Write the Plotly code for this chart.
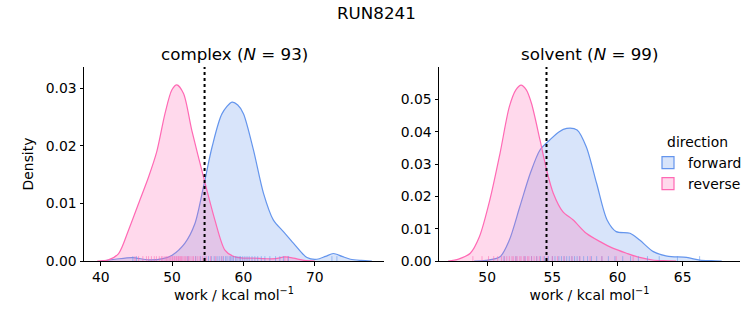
import plotly.graph_objects as go

# ---------------- data ----------------
suptitle = "RUN8241"
phases = ["complex", "solvent"]
n_samples = [93, 99]
directions = ["forward", "reverse"]
threshold = [54.55, 54.55]

# KDE curves
cx_fwd_x = [40, 42, 44.4, 46.7, 48.7, 50.0, 51.8, 53.2, 54.4, 55.6, 57.0, 58.4, 59.2, 60.0, 61.4, 62.8, 64.2, 65.6, 67.0, 68.9, 70.3, 71.5, 72.6, 73.8, 75.0, 76.5, 78]
cx_fwd_y = [0, 0.0003, 0.0006, 0.0002, 0.0004, 0.0010, 0.0031, 0.0065, 0.0129, 0.0198, 0.0256, 0.0276, 0.0271, 0.0256, 0.0193, 0.0118, 0.0071, 0.0051, 0.0031, 0.0006, 0.0003, 0.0008, 0.0013, 0.0008, 0.0003, 0.0001, 0]
cx_rev_x = [39.5, 41.07, 42.5, 43.9, 45.3, 46.7, 47.85, 49.0, 49.96, 50.66, 51.6, 52.76, 54.4, 56.0, 57.4, 58.6, 60.0, 61.4, 63.0, 64.5, 65.8, 67.0, 68.5, 70.0]
cx_rev_y = [0, 0.0002, 0.0013, 0.0054, 0.0100, 0.0146, 0.0190, 0.0256, 0.0297, 0.0306, 0.0291, 0.0227, 0.0146, 0.0071, 0.0019, 0.0008, 0.0005, 0.0005, 0.0004, 0.0004, 0.0007, 0.0005, 0.0001, 0]

sv_fwd_x = [49.0, 49.9, 50.98, 51.7, 52.5, 53.3, 54.05, 54.8, 55.5, 56.1, 56.9, 57.6, 58.4, 59.2, 59.9, 60.96, 61.7, 62.75, 63.8, 65.3, 66.3, 67.2, 68.0]
sv_fwd_y = [0, 0.0002, 0.0013, 0.0065, 0.0168, 0.0271, 0.0344, 0.0375, 0.0400, 0.0411, 0.0406, 0.0354, 0.0240, 0.0127, 0.0091, 0.0086, 0.0065, 0.0029, 0.0015, 0.0011, 0.0003, 0.0001, 0]
sv_rev_x = [47.0, 47.8, 48.7, 49.4, 50.2, 50.98, 51.7, 52.2, 52.6, 53.0, 53.4, 54.05, 54.56, 55.07, 55.8, 56.6, 57.6, 58.66, 59.68, 60.7, 61.7, 62.7, 63.5, 64.5]
sv_rev_y = [0, 0.0006, 0.0024, 0.0075, 0.0189, 0.0333, 0.0478, 0.0530, 0.0545, 0.0530, 0.0488, 0.0375, 0.0282, 0.0210, 0.0153, 0.0127, 0.0086, 0.0060, 0.0039, 0.0024, 0.0011, 0.0003, 0.0001, 0]

# rug samples (estimated)
cx_fwd_rug = [44.5, 45.0, 52.2, 53.3, 54.0, 54.6, 55.1, 55.5, 55.9, 56.3, 56.6, 56.9, 57.2, 57.5, 57.7, 58.0, 58.2, 58.4, 58.6, 58.9, 59.1, 59.4, 59.6, 59.9, 60.2, 60.5, 60.8, 61.2, 61.6, 62.0, 62.5, 63.0, 63.7, 64.5, 65.1, 65.6, 66.3, 72.4, 73.1]
cx_rev_rug = [44.8, 45.3, 45.9, 46.4, 46.7, 47.1, 47.5, 47.8, 48.2, 48.5, 48.7, 49.0, 49.2, 49.4, 49.6, 49.8, 50.0, 50.1, 50.3, 50.4, 50.6, 50.7, 50.9, 51.0, 51.2, 51.3, 51.5, 51.7, 51.9, 52.1, 52.3, 52.5, 52.8, 53.0, 53.3, 53.6, 53.9, 54.3, 54.8, 55.4, 56.1, 57.0, 65.8, 66.2]
sv_fwd_rug = [51.3, 52.2, 52.9, 53.4, 53.8, 54.1, 54.4, 54.7, 55.0, 55.2, 55.5, 55.7, 55.9, 56.1, 56.3, 56.5, 56.7, 56.9, 57.1, 57.4, 57.7, 58.0, 58.4, 58.8, 59.3, 59.8, 60.4, 61.0, 61.6, 62.3, 63.2, 64.6, 66.3]
sv_rev_rug = [48.9, 49.6, 50.1, 50.5, 50.8, 51.1, 51.3, 51.5, 51.7, 51.9, 52.0, 52.2, 52.3, 52.5, 52.6, 52.8, 52.9, 53.1, 53.2, 53.4, 53.6, 53.8, 54.0, 54.3, 54.6, 55.0, 55.4, 55.9, 56.5, 57.1, 57.9, 58.8, 59.9, 61.2]

x_ticks = [[40, 50, 60, 70], [50, 55, 60, 65]]
y_ticks = [[0, 0.01, 0.02, 0.03], [0, 0.01, 0.02, 0.03, 0.04, 0.05]]
x_ranges = [[37.65, 79.7], [46.3, 69.4]]
y_ranges = [[0, 0.0337], [0, 0.0601]]

# ---------------- style ----------------
W, H = 753, 325
FONT = "DejaVu Sans"
colors = {"forward": "#6495ED", "reverse": "#FF69B4"}
fills = {"forward": "rgba(100,149,237,0.25)", "reverse": "rgba(255,105,180,0.25)"}
x_domains = [[84 / W, 384 / W], [439 / W, 740 / W]]
y_domain = [1 - 261 / H, 1 - 67 / H]

curves = [
    {"forward": (cx_fwd_x, cx_fwd_y), "reverse": (cx_rev_x, cx_rev_y)},
    {"forward": (sv_fwd_x, sv_fwd_y), "reverse": (sv_rev_x, sv_rev_y)},
]
rugs = [
    {"forward": cx_fwd_rug, "reverse": cx_rev_rug},
    {"forward": sv_fwd_rug, "reverse": sv_rev_rug},
]

fig = go.Figure()
shapes = []
for i in range(2):
    xa = "x" if i == 0 else "x2"
    ya = "y" if i == 0 else "y2"
    for d in directions:
        xs, ys = curves[i][d]
        fig.add_trace(go.Scatter(
            x=xs, y=ys, mode="lines", name=d, legendgroup=d,
            showlegend=False,
            line=dict(color=colors[d], width=1.2, shape="spline", smoothing=0.8),
            fill="tozeroy", fillcolor=fills[d],
            xaxis=xa, yaxis=ya,
        ))
    for d in directions:
        for v in rugs[i][d]:
            shapes.append(dict(
                type="line", xref=xa, yref=ya + " domain",
                x0=v, x1=v, y0=0, y1=0.025,
                line=dict(color=colors[d], width=1), opacity=0.55, layer="above",
            ))
    shapes.append(dict(
        type="line", xref=xa, yref=ya + " domain",
        x0=threshold[i], x1=threshold[i], y0=0, y1=1,
        line=dict(color="black", width=2, dash="dot"), layer="above",
    ))

# legend patch entries (degenerate, invisible shapes that only supply a legend icon)
for d in directions:
    shapes.append(dict(
        type="rect", xref="paper", yref="paper", x0=0, x1=0, y0=0, y1=0,
        fillcolor=fills[d], line=dict(color=colors[d], width=1.2),
        name=d, showlegend=True, legendgroup=d, layer="below",
    ))

axis_common = dict(
    showgrid=False, zeroline=False, showline=True, linecolor="black", linewidth=1,
    ticks="outside", ticklen=3.5, tickwidth=0.8, tickcolor="black",
    tickfont=dict(family=FONT, size=13.9, color="black"),
    mirror=False, automargin=False,
)

layout = dict(
    width=W, height=H,
    margin=dict(l=0, r=0, t=0, b=0),
    paper_bgcolor="white", plot_bgcolor="white",
    font=dict(family=FONT, size=13.9, color="black"),
    shapes=shapes,
    showlegend=True,
    legend=dict(
        x=648 / W, y=1 - 129 / H, xanchor="left", yanchor="top",
        title=dict(text="direction", side="top center", font=dict(size=13.9)),
        font=dict(size=13.9), bgcolor="rgba(255,255,255,0)",
        itemwidth=30, tracegroupgap=0, itemclick=False, itemdoubleclick=False,
    ),
)
for i in range(2):
    sfx = "" if i == 0 else "2"
    layout["xaxis" + sfx] = dict(
        axis_common, domain=x_domains[i], range=x_ranges[i],
        tickvals=x_ticks[i], anchor="y" + sfx,
        title=dict(text="work / kcal mol<sup>−1</sup>", standoff=5,
                   font=dict(family=FONT, size=13.9)),
    )
    layout["yaxis" + sfx] = dict(
        axis_common, domain=y_domain, range=y_ranges[i],
        tickvals=y_ticks[i], tickformat=".2f", anchor="x" + sfx,
        title=dict(text="Density" if i == 0 else "", standoff=8,
                   font=dict(family=FONT, size=13.9)),
    )
fig.update_layout(**layout)

annotations = [dict(
    text=suptitle, x=0.5, y=1 - 13 / H, xref="paper", yref="paper",
    showarrow=False, font=dict(family=FONT, size=16.7), xanchor="center", yanchor="middle",
)]
for i in range(2):
    annotations.append(dict(
        text=f"{phases[i]} (<i>N</i> = {n_samples[i]})",
        x=sum(x_domains[i]) / 2, y=1 - 54 / H, xref="paper", yref="paper",
        showarrow=False, font=dict(family=FONT, size=16.7),
        xanchor="center", yanchor="middle",
    ))
fig.update_layout(annotations=annotations)

fig.write_html("out.html")
